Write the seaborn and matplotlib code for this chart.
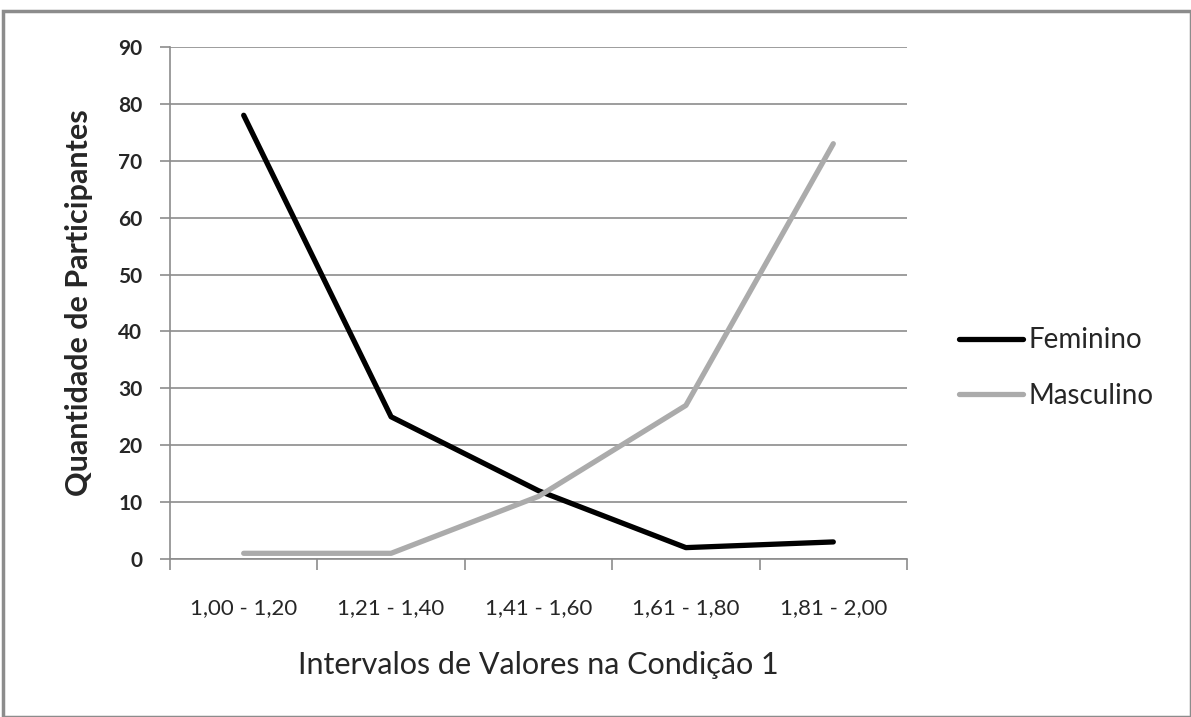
import pandas as pd
import seaborn as sns
import matplotlib
matplotlib.use("Agg")
import matplotlib.pyplot as plt
from matplotlib.patches import Rectangle

# values
intervals = ["1,00 - 1,20", "1,21 - 1,40", "1,41 - 1,60", "1,61 - 1,80", "1,81 - 2,00"]
feminino = [78, 25, 12, 2, 3]
masculino = [1, 1, 11, 27, 73]
y_ticks = [0, 10, 20, 30, 40, 50, 60, 70, 80, 90]

df = pd.DataFrame({
    "intervalo": intervals * 2,
    "quantidade": feminino + masculino,
    "sexo": ["Feminino"] * len(intervals) + ["Masculino"] * len(intervals),
})
df["pos"] = list(range(len(intervals))) * 2

sns.set_style("white")
plt.rcParams["font.family"] = ["Lato", "DejaVu Sans"]

fig = plt.figure(figsize=(11.91, 7.17), dpi=100)
ax = fig.add_axes([170 / 1191, 1 - 559 / 717, 737 / 1191, 512 / 717])

sns.lineplot(data=df, x="pos", y="quantidade", hue="sexo",
             palette={"Feminino": "#000000", "Masculino": "#ababab"},
             linewidth=3.8, ax=ax, legend=False)

ax.set_ylim(0, 90)
ax.set_xlim(-0.5, len(intervals) - 0.5)
ax.set_yticks(y_ticks)
ax.set_yticklabels([str(v) for v in y_ticks], fontsize=15, fontweight="bold")
ax.yaxis.grid(True, color="#8c8c8c", linewidth=1.2)
ax.set_axisbelow(True)

# tick marks at category boundaries, labels at centres
ax.set_xticks([i - 0.5 for i in range(len(intervals) + 1)])
ax.set_xticklabels([])
ax.set_xticks(range(len(intervals)), minor=True)
ax.set_xticklabels(intervals, minor=True, fontsize=16)
ax.tick_params(axis="x", which="major", direction="out", length=8, width=1.2,
               color="#8c8c8c", bottom=True)
ax.tick_params(axis="x", which="minor", length=0, pad=28)
ax.tick_params(axis="y", direction="out", length=7, width=1.2, color="#8c8c8c",
               left=True, pad=13)

for side in ["top", "right"]:
    ax.spines[side].set_visible(False)
for side in ["left", "bottom"]:
    ax.spines[side].set_color("#8c8c8c")
    ax.spines[side].set_linewidth(1.2)

ax.set_xlabel("Intervalos de Valores na Condição 1", fontsize=22, labelpad=24)
ax.set_ylabel("Quantidade de Participantes", fontsize=22, fontweight="bold", labelpad=18)

# legend built from the plotted lines
handles = ax.get_lines()[:2]
leg = fig.legend(handles, ["Feminino", "Masculino"], loc="center left",
                 bbox_to_anchor=(934 / 1191, 1 - 368 / 717), frameon=False,
                 fontsize=20, handlelength=2.3, handletextpad=0.2, labelspacing=1.05)

# outer border of the chart
fig.patches.append(Rectangle((3 / 1191, 0), 1 - 3 / 1191, 1 - 11 / 717,
                             transform=fig.transFigure, fill=False,
                             edgecolor="#8c8c8c", linewidth=2.5))

fig.savefig("out.png", dpi=100)
